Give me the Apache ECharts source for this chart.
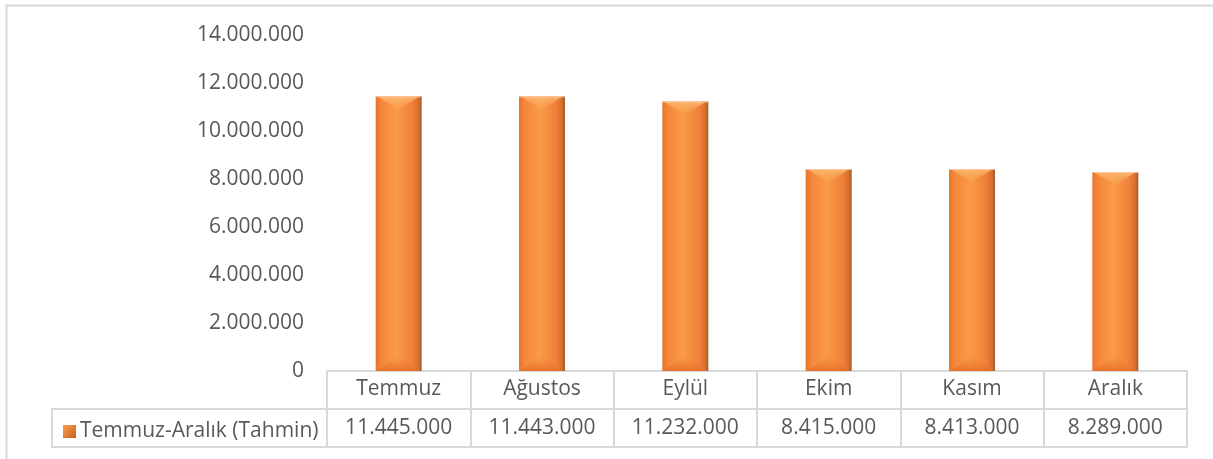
<!DOCTYPE html>
<html>
<head>
<meta charset="utf-8">
<script src="https://cdn.jsdelivr.net/npm/echarts@6/dist/echarts.min.js"></script>
<style>
html,body{margin:0;padding:0;background:#fff;}
#c{width:1213px;height:459px;}
</style>
</head>
<body>
<div id="c"></div>
<script>
const categories = ['Temmuz', 'Ağustos', 'Eylül', 'Ekim', 'Kasım', 'Aralık'];
const seriesName = 'Temmuz-Aralık (Tahmin)';
const values = [11445000, 11443000, 11232000, 8415000, 8413000, 8289000];
const yTicks = { min: 0, max: 14000000, interval: 2000000 };

function fmt(n) {
  return String(n).replace(/\B(?=(\d{3})+(?!\d))/g, '.');
}
const valueLabels = values.map(fmt);

const FONT = 'Open Sans';
const FS = 21;
const TXT = '#595959';
const LINE = '#d9d9d9';

const chart = echarts.init(document.getElementById('c'), null, { renderer: 'canvas' });

function barFill() {
  return new echarts.graphic.LinearGradient(0, 0, 1, 0, [
    { offset: 0, color: '#E8742C' },
    { offset: 0.12, color: '#F5853A' },
    { offset: 0.45, color: '#F99B48' },
    { offset: 0.8, color: '#F0803A' },
    { offset: 0.93, color: '#D8702E' },
    { offset: 1, color: '#9E5A2E' }
  ]);
}

const option = {
  animation: false,
  textStyle: { fontFamily: FONT },
  grid: { left: 327, right: 26, top: 35, bottom: 88, containLabel: false },
  legend: {
    show: true,
    left: 58,
    top: 416,
    itemWidth: 13,
    itemHeight: 13,
    itemGap: 0,
    icon: 'rect',
    textStyle: { fontFamily: FONT, fontSize: FS, color: TXT, padding: [0, 0, 0, -1] },
    data: [{ name: seriesName, itemStyle: { color: new echarts.graphic.LinearGradient(0, 0, 1, 1, [
      { offset: 0, color: '#F9A050' }, { offset: 1, color: '#C8601E' }]) } }]
  },
  xAxis: [
    {
      type: 'category',
      data: categories,
      position: 'bottom',
      axisLine: { show: true, lineStyle: { color: LINE, width: 2 } },
      axisTick: { show: true, length: 76, lineStyle: { color: LINE, width: 2 } },
      axisLabel: { fontFamily: FONT, fontSize: FS, color: TXT, margin: 8 }
    },
    {
      type: 'category',
      data: valueLabels,
      position: 'bottom',
      offset: 38,
      axisLine: { show: true, lineStyle: { color: LINE, width: 2 } },
      axisTick: { show: false },
      axisLabel: { fontFamily: FONT, fontSize: FS, color: TXT, margin: 9 }
    },
    {
      type: 'category',
      data: valueLabels,
      position: 'bottom',
      offset: 76,
      axisLine: { show: true, lineStyle: { color: LINE, width: 2 } },
      axisTick: { show: false },
      axisLabel: { show: false }
    }
  ],
  yAxis: {
    type: 'value',
    min: yTicks.min,
    max: yTicks.max,
    interval: yTicks.interval,
    axisLine: { show: false },
    axisTick: { show: false },
    splitLine: { show: false },
    axisLabel: {
      fontFamily: FONT, fontSize: FS, color: TXT, margin: 23,
      formatter: v => fmt(v)
    }
  },
  graphic: [
    { type: 'rect', shape: { x: 6.5, y: 5.5, width: 1300, height: 600 }, style: { fill: 'none', stroke: LINE, lineWidth: 2 }, silent: true, z: -10 },
    { type: 'polyline', shape: { points: [[327, 409], [52, 409], [52, 447], [327, 447]] }, style: { fill: 'none', stroke: LINE, lineWidth: 2 }, silent: true }
  ],
  series: [
    {
      name: seriesName,
      type: 'custom',
      data: values.map((v, i) => [i, v]),
      encode: { x: 0, y: 1 },
      itemStyle: { color: '#F5863A' },
      renderItem: function (params, api) {
        const i = api.value(0), v = api.value(1);
        const top = api.coord([i, v]);
        const bot = api.coord([i, 0]);
        const w = 46;
        const l = top[0] - w / 2, r = top[0] + w / 2, t = top[1], b = bot[1];
        const bev = 11;
        return {
          type: 'group',
          children: [
            { type: 'rect', shape: { x: l, y: t, width: w, height: b - t }, style: { fill: barFill() } },
            { type: 'polygon', shape: { points: [[l + 1, t], [r - 2, t], [top[0], t + bev + 2]] },
              style: { fill: new echarts.graphic.LinearGradient(0, 0, 0, 1, [
                { offset: 0, color: 'rgba(252,190,120,0.85)' }, { offset: 1, color: 'rgba(250,170,90,0.2)' }]) } },
            { type: 'polygon', shape: { points: [[l + 1, b], [r - 2, b], [top[0], b - bev - 4]] },
              style: { fill: new echarts.graphic.LinearGradient(0, 1, 0, 0, [
                { offset: 0, color: 'rgba(230,110,40,0.9)' }, { offset: 1, color: 'rgba(245,140,60,0.2)' }]) } },
            { type: 'rect', shape: { x: l, y: t, width: w, height: 1 }, style: { fill: 'rgba(255,200,170,0.8)' } }
          ]
        };
      }
    }
  ]
};
chart.setOption(option);
</script>
</body>
</html>
